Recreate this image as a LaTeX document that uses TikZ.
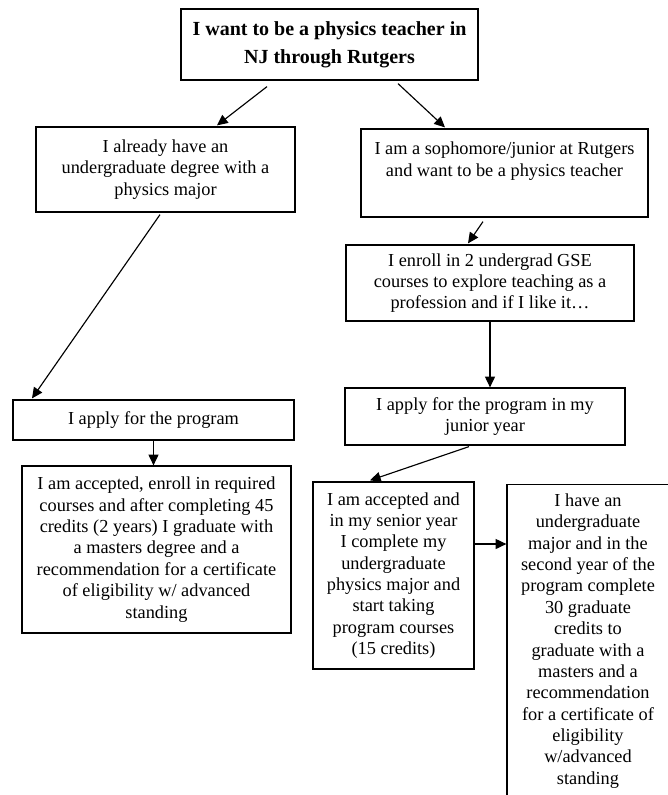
\documentclass[tikz,border=0pt]{standalone}
\usepackage{fontspec}
\setmainfont{Liberation Serif}
\usetikzlibrary{arrows.meta,calc}

\begin{document}
\begin{tikzpicture}[x=0.655pt, y=-0.655pt,
  card/.style={draw=black, line width=0.8pt, align=center, inner sep=2pt,
               font=\fontsize{12}{14}\selectfont},
  wh/.style 2 args={minimum width=#1*0.655pt, minimum height=#2*0.655pt},
  arr/.style={-{Triangle[length=7pt,width=6.5pt]}, line width=0.75pt}
]
  \useasboundingbox (0,0) rectangle (668,795);

  % top goal
  \node[card, wh={297}{71}, font=\fontsize{13.1}{18.5}\selectfont\bfseries] (goal) at (329.5,44.5)
    {I want to be a physics teacher in\\NJ through Rutgers};

  % left path: graduate route
  \node[card, wh={259}{85}] (already) at (165.5,169.5)
    {I already have an\\undergraduate degree with a\\physics major};
  \node[card, wh={281}{40}] (apply) at (153.5,420) {I apply for the program};
  \node[card, wh={269}{167}] (accepted) at (156.5,549.5)
    {I am accepted, enroll in required\\courses and after completing 45\\credits (2 years) I graduate with\\a masters degree and a\\recommendation for a certificate\\of eligibility w/ advanced\\standing};

  % right path: undergraduate route
  \node[card, wh={287}{88}] (soph) at (504.5,173)
    {I am a sophomore/junior at Rutgers\\and want to be a physics teacher\\[4pt]~};
  \node[card, wh={288}{76}] (enroll) at (490,283)
    {I enroll in 2 undergrad GSE\\courses to explore teaching as a\\profession and if I like it…};
  \node[card, wh={280}{57}] (junior) at (485,416.5)
    {I apply for the program in my\\junior year};
  \node[card, wh={161}{187}] (senior) at (393.5,575.5)
    {I am accepted and\\in my senior year\\I complete my\\undergraduate\\physics major and\\start taking\\program courses\\(15 credits)};
  \node[card, wh={162}{313}] (second) at (588,641)
    {I have an\\undergraduate\\major and in the\\second year of the\\program complete\\30 graduate\\credits to\\graduate with a\\masters and a\\recommendation\\for a certificate of\\eligibility\\w/advanced\\standing};

  % connectors
  \draw[arr] ($(goal.south)+(-62.5,6)$) -- ($(already.north)+(51.5,-1)$);
  \draw[arr] ($(goal.south)+(68.5,3)$) -- ($(soph.north)+(-59.5,-1)$);
  \draw[arr] ($(already.south)+(-5.5,2)$) -- ($(apply.north)+(-121.5,-1)$);
  \draw[arr] (apply.south) -- (apply.south |- accepted.north);
  \draw[arr] ($(soph.south)+(-21.5,4)$) -- ($(enroll.north)+(-22,-1)$);
  \draw[arr] (enroll.south) -- (enroll.south |- junior.north);
  \draw[arr] ($(junior.south)+(-16,1)$) -- ($(senior.north)+(-23.5,-1)$);
  \draw[arr] ($(senior.east)+(0,-31.5)$) -- ($(second.west)+(0,-97)$);
\end{tikzpicture}
\end{document}
